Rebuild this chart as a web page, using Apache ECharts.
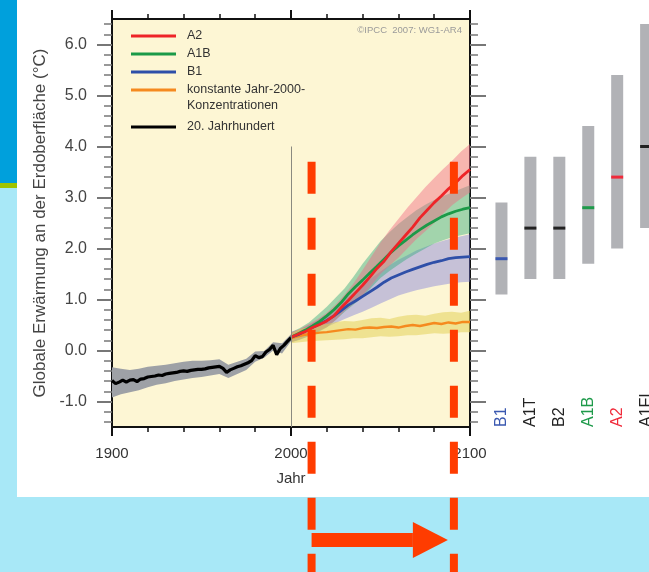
<!DOCTYPE html>
<html>
<head>
<meta charset="utf-8">
<script src="https://cdn.jsdelivr.net/npm/echarts@6/dist/echarts.min.js"></script>
<style>
body { margin: 0; background: #a8e8f7; }
#panel { position: absolute; left: 17px; top: 0; width: 632px; height: 497px; background: #fff; }
#blue { position: absolute; left: 0; top: 0; width: 17px; height: 183px; background: #00a0dc; }
#lime { position: absolute; left: 0; top: 183px; width: 17px; height: 5px; background: #9fc400; }
#main { position: absolute; left: 0; top: 0; width: 649px; height: 572px; }
</style>
</head>
<body>
<div id="panel"></div>
<div id="blue"></div>
<div id="lime"></div>
<div id="main"></div>
<script>
// 20. Jahrhundert (Beobachtung), alle 2 Jahre
var histYears = [1900,1902,1904,1906,1908,1910,1912,1914,1916,1918,1920,1922,1924,1926,1928,1930,1932,1934,1936,1938,
	1940,1942,1944,1946,1948,1950,1952,1954,1956,1958,1960,1962,1964,1966,1968,1970,1972,1974,1976,1978,
	1980,1982,1984,1986,1988,1990,1992,1994,1996,1998,2000];
var histMean = [-0.59,-0.65,-0.62,-0.58,-0.62,-0.58,-0.57,-0.61,-0.56,-0.55,-0.52,-0.51,-0.50,-0.48,-0.49,-0.46,-0.45,-0.44,-0.43,-0.41,
	-0.40,-0.41,-0.39,-0.38,-0.37,-0.37,-0.36,-0.34,-0.33,-0.32,-0.31,-0.35,-0.43,-0.38,-0.35,-0.32,-0.30,-0.27,-0.24,-0.20,
	-0.10,-0.14,-0.12,-0.03,0.02,0.10,-0.08,0.04,0.10,0.18,0.25];
// Unsicherheitsband, alle 5 Jahre
var histBandYears = [1900,1905,1910,1915,1920,1925,1930,1935,1940,1945,1950,1955,1960,1965,1970,1975,1980,1985,1990,1995,2000];
var histHi = [-0.33,-0.36,-0.38,-0.36,-0.32,-0.30,-0.28,-0.25,-0.22,-0.20,-0.20,-0.19,-0.17,-0.28,-0.22,-0.16,-0.02,-0.01,0.16,0.14,0.32];
var histLo = [-0.92,-0.86,-0.82,-0.78,-0.72,-0.67,-0.64,-0.60,-0.57,-0.54,-0.52,-0.49,-0.46,-0.54,-0.46,-0.38,-0.22,-0.14,0.00,-0.06,0.18];

// Szenarien 2000-2100, alle 4 Jahre
var projYears = [2000,2004,2008,2012,2016,2020,2024,2028,2032,2036,2040,2044,2048,2052,2056,2060,2064,2068,2072,2076,2080,2084,2088,2092,2096,2100];
var a2Mean = [0.26,0.32,0.37,0.45,0.51,0.58,0.68,0.84,0.98,1.13,1.28,1.44,1.61,1.75,1.94,2.10,2.26,2.42,2.60,2.75,2.90,3.03,3.17,3.29,3.43,3.55];
var a1bMean = [0.26,0.33,0.40,0.48,0.57,0.68,0.80,0.94,1.11,1.25,1.38,1.52,1.65,1.79,1.93,2.05,2.16,2.27,2.37,2.46,2.54,2.62,2.68,2.73,2.77,2.80];
var b1Mean = [0.26,0.31,0.38,0.45,0.52,0.59,0.68,0.78,0.89,0.97,1.06,1.15,1.24,1.34,1.42,1.48,1.54,1.59,1.64,1.69,1.73,1.76,1.80,1.82,1.83,1.84];
var constMean = [0.24,0.28,0.31,0.33,0.35,0.36,0.38,0.40,0.42,0.41,0.44,0.45,0.44,0.46,0.47,0.45,0.48,0.50,0.48,0.51,0.54,0.52,0.55,0.53,0.56,0.56];

// Bänder, alle 5 Jahre
var bandYears = [2000,2005,2010,2015,2020,2025,2030,2035,2040,2045,2050,2055,2060,2065,2070,2075,2080,2085,2090,2095,2100];
var a2Hi = [0.36,0.42,0.52,0.62,0.74,0.90,1.10,1.32,1.58,1.85,2.12,2.36,2.58,2.80,3.00,3.20,3.38,3.56,3.72,3.90,4.05];
var a2Lo = [0.16,0.22,0.30,0.38,0.46,0.60,0.78,0.92,1.08,1.28,1.50,1.66,1.82,2.00,2.18,2.34,2.50,2.68,2.85,2.98,3.10];
var a1bHi = [0.36,0.44,0.55,0.70,0.86,1.04,1.22,1.45,1.70,1.92,2.14,2.32,2.48,2.62,2.75,2.86,2.95,3.03,3.10,3.17,3.24];
var a1bLo = [0.16,0.21,0.28,0.36,0.45,0.60,0.76,0.90,1.05,1.24,1.42,1.56,1.68,1.80,1.90,2.00,2.10,2.16,2.22,2.26,2.30];
var b1Hi = [0.36,0.42,0.50,0.60,0.72,0.86,1.00,1.14,1.28,1.42,1.55,1.67,1.78,1.87,1.96,2.03,2.10,2.15,2.20,2.24,2.28];
var b1Lo = [0.16,0.22,0.28,0.37,0.46,0.54,0.62,0.69,0.76,0.84,0.92,1.00,1.08,1.13,1.18,1.22,1.26,1.29,1.32,1.34,1.35];
var constHi = [0.34,0.42,0.46,0.50,0.52,0.56,0.58,0.57,0.60,0.63,0.64,0.62,0.66,0.69,0.70,0.68,0.72,0.75,0.76,0.74,0.78];
var constLo = [0.14,0.16,0.18,0.19,0.20,0.21,0.22,0.24,0.24,0.26,0.28,0.27,0.28,0.30,0.30,0.32,0.34,0.33,0.34,0.36,0.36];

// Bereiche 2090-2099 je Szenario
var scenarios = ['B1', 'A1T', 'B2', 'A1B', 'A2', 'A1FI'];
var rangeLow = [1.1, 1.4, 1.4, 1.7, 2.0, 2.4];
var rangeHigh = [2.9, 3.8, 3.8, 4.4, 5.4, 6.4];
var rangeBest = [1.8, 2.4, 2.4, 2.8, 3.4, 4.0];

// Achsenteilung
var yMajorTicks = [-1, 0, 1, 2, 3, 4, 5, 6];
var yMinorTicks = [-1.4,-1.2,-0.8,-0.6,-0.4,-0.2,0.2,0.4,0.6,0.8,1.2,1.4,1.6,1.8,2.2,2.4,2.6,2.8,3.2,3.4,3.6,3.8,
	4.2,4.4,4.6,4.8,5.2,5.4,5.6,5.8,6.2,6.4];
var scenarioSlots = [0, 1, 2, 3, 4, 5];
var markerYears = [2011.5, 2091];
var markerTop = 3.7;

var constName = 'konstante Jahr-2000-Konzentrationen';
var scenarioColors = ['#3a58b0', '#222', '#222', '#1e9a4a', '#f02a3a', '#222'];
var font = "'Liberation Sans', Arial, sans-serif";

function pairs(xs, ys) {
	return xs.map(function(x, i) { return [x, ys[i]]; });
}
// Band als Polygon ueber die Achsen des Diagramms
function band(xs, lo, hi, color) {
	return {
		type: 'custom', silent: true,
		data: xs.map(function(x, i) { return [x, lo[i], hi[i]]; }),
		encode: { x: 0, y: [1, 2] },
		renderItem: function(params, api) {
			if (params.dataIndex !== 0) return null;
			var pts = [];
			for (var i = 0; i < xs.length; i++) pts.push(api.coord([xs[i], hi[i]]));
			for (var j = xs.length - 1; j >= 0; j--) pts.push(api.coord([xs[j], lo[j]]));
			return { type: 'polygon', shape: { points: pts }, style: { fill: color } };
		}
	};
}
function line(name, xs, ys, color, width) {
	return {
		name: name, type: 'line', data: pairs(xs, ys), symbol: 'none', color: color,
		lineStyle: { width: width, color: color }, silent: true
	};
}
function yTicks(pos, values, len, labels) {
	return {
		gridIndex: 0, type: 'value', min: -1.5, max: 6.5, position: pos,
		axisLine: { show: false, onZero: false },
		axisTick: { customValues: values, length: len, lineStyle: { color: '#777', width: len > 10 ? 2 : 1.5 } },
		axisLabel: labels ? {
			customValues: values, margin: 25, fontSize: 16, color: '#444',
			formatter: function(v) { return v.toFixed(1); }
		} : { show: false },
		splitLine: { show: false }
	};
}
function xTicks(pos) {
	return {
		gridIndex: 0, type: 'value', min: 1900, max: 2100, interval: 100, position: pos,
		axisLine: { show: false, onZero: false },
		axisTick: { length: 9, lineStyle: { color: '#111', width: 2 } },
		minorTick: { show: true, splitNumber: 5, length: 5, lineStyle: { color: '#111', width: 1.5 } },
		splitLine: { show: false },
		axisLabel: pos === 'bottom' ? {
			margin: 19, fontSize: 15, color: '#333',
			formatter: function(v) { return String(v); }
		} : { show: false }
	};
}
function slotColor(v) {
	var n = Number(v);
	var k = isNaN(n) ? scenarios.indexOf(v) : Math.round(n);
	return scenarioColors[k] || '#222';
}

var chart = echarts.init(document.getElementById('main'));

// rechte Spalte: Szenarien auf Plaetzen 0..5, letzter Balken am Rand angeschnitten
var xs = [xTicks('bottom'), xTicks('top'), {
	gridIndex: 1, type: 'value', min: -0.5, max: 5.1,
	axisLine: { show: false, onZero: false }, axisTick: { show: false }, splitLine: { show: false },
	axisLabel: {
		customValues: scenarioSlots, inside: true, rotate: 90, margin: 0, fontSize: 16,
		formatter: function(v) { return scenarios[Math.round(v)]; },
		color: slotColor
	}
}];
xs[0].name = 'Jahr';
xs[0].nameLocation = 'middle';
xs[0].nameGap = 44;
xs[0].nameTextStyle = { fontSize: 15, color: '#333' };

var ys = [yTicks('left', yMajorTicks, 15, true), yTicks('left', yMinorTicks, 8, false),
	yTicks('right', yMajorTicks, 16, false), yTicks('right', yMinorTicks, 8, false),
	{ gridIndex: 1, type: 'value', min: -1.5, max: 6.5, show: false }];
ys[0].name = 'Globale Erwärmung an der Erdoberfläche (°C)';
ys[0].nameLocation = 'middle';
ys[0].nameGap = 63;
ys[0].nameTextStyle = { fontSize: 17, color: '#444' };

var histLine = line('20. Jahrhundert', histYears, histMean, '#000', 3.2);
histLine.markLine = {
	silent: true, symbol: 'none', label: { show: false },
	lineStyle: { color: '#8a8a80', width: 1, type: 'solid' },
	data: [[{ coord: [2000, 4] }, { coord: [2000, -1.5] }]]
};

var series = [
	band(histBandYears, histLo, histHi, '#9ea1a6'),
	band(bandYears, b1Lo, b1Hi, 'rgba(115,115,220,0.40)'),
	band(bandYears, a1bLo, a1bHi, 'rgba(50,170,125,0.45)'),
	band(bandYears, a2Lo, a2Hi, 'rgba(240,105,130,0.45)'),
	band(bandYears, constLo, constHi, 'rgba(228,210,90,0.55)'),
	line(constName, projYears, constMean, '#f58a1f', 2.4),
	line('B1', projYears, b1Mean, '#2e4fa8', 2.8),
	line('A1B', projYears, a1bMean, '#1b9a48', 2.8),
	line('A2', projYears, a2Mean, '#ee2428', 2.8),
	histLine,
	{
		// Spannweite als grauer Balken, bester Schaetzwert als Querstrich
		type: 'custom', xAxisIndex: 2, yAxisIndex: 4, silent: true,
		data: scenarioSlots.map(function(s, i) { return [s, rangeLow[i], rangeHigh[i], rangeBest[i]]; }),
		encode: { x: 0, y: [1, 2, 3] },
		renderItem: function(params, api) {
			var lo = api.coord([api.value(0), api.value(1)]);
			var hi = api.coord([api.value(0), api.value(2)]);
			var best = api.coord([api.value(0), api.value(3)]);
			return {
				type: 'group',
				children: [{
					type: 'rect',
					shape: { x: lo[0] - 6, y: hi[1], width: 12, height: lo[1] - hi[1] },
					style: { fill: '#b1b2b6' }
				}, {
					type: 'rect',
					shape: { x: best[0] - 6, y: best[1] - 1.5, width: 12, height: 3 },
					style: { fill: scenarioColors[params.dataIndex] }
				}]
			};
		}
	}
];

var legendBase = {
	orient: 'vertical', left: 131, itemWidth: 45, itemHeight: 3, itemGap: 2, icon: 'rect',
	selectedMode: false, padding: 0,
	textStyle: { fontSize: 12.5, color: '#333', lineHeight: 16, padding: [0, 0, 0, 6] }
};

chart.setOption({
	animation: false,
	backgroundColor: 'transparent',
	textStyle: { fontFamily: font },
	title: [{
		text: '©IPCC  2007: WG1-AR4', right: 187, top: 25, padding: 0,
		textStyle: { fontSize: 9.5, color: '#9a9a9a', fontWeight: 'normal' }
	}, {
		text: 'Konzentrationen', left: 187, top: 99, padding: 0,
		textStyle: { fontSize: 12.5, color: '#333', fontWeight: 'normal' }
	}],
	legend: [
		Object.assign({}, legendBase, {
			top: 28, data: ['A2', 'A1B', 'B1', constName],
			formatter: function(n) { return n === constName ? 'konstante Jahr-2000-' : n; }
		}),
		Object.assign({}, legendBase, { top: 119, data: ['20. Jahrhundert'] })
	],
	grid: [
		{ left: 112, top: 19, right: 179, bottom: 145, outerBoundsMode: 'none', show: true, backgroundColor: '#fdf6d4', borderColor: '#111', borderWidth: 2 },
		{ left: 487, top: 19, right: 0, bottom: 145, outerBoundsMode: 'none' }
	],
	xAxis: xs,
	yAxis: ys,
	series: series
});

// rote Markierungen 2010 / 2090 mit Pfeil
var mx = markerYears.map(function(y) { return chart.convertToPixel({ xAxisIndex: 0 }, y); });
var my = chart.convertToPixel({ yAxisIndex: 0 }, markerTop);
var red = '#ff3c00';
var graphics = mx.map(function(x) {
	return {
		type: 'line', z: 100, silent: true,
		shape: { x1: x, y1: my, x2: x, y2: 572 },
		style: { stroke: red, lineWidth: 8, lineDash: [32, 24] }
	};
});
graphics.push({
	type: 'rect', z: 100, silent: true,
	shape: { x: mx[0], y: 533, width: mx[1] - 41 - mx[0], height: 14 },
	style: { fill: red }
});
graphics.push({
	type: 'polygon', z: 100, silent: true,
	shape: { points: [[mx[1] - 41, 522], [mx[1] - 6, 540], [mx[1] - 41, 558]] },
	style: { fill: red }
});
chart.setOption({ graphic: graphics });
</script>
</body>
</html>
